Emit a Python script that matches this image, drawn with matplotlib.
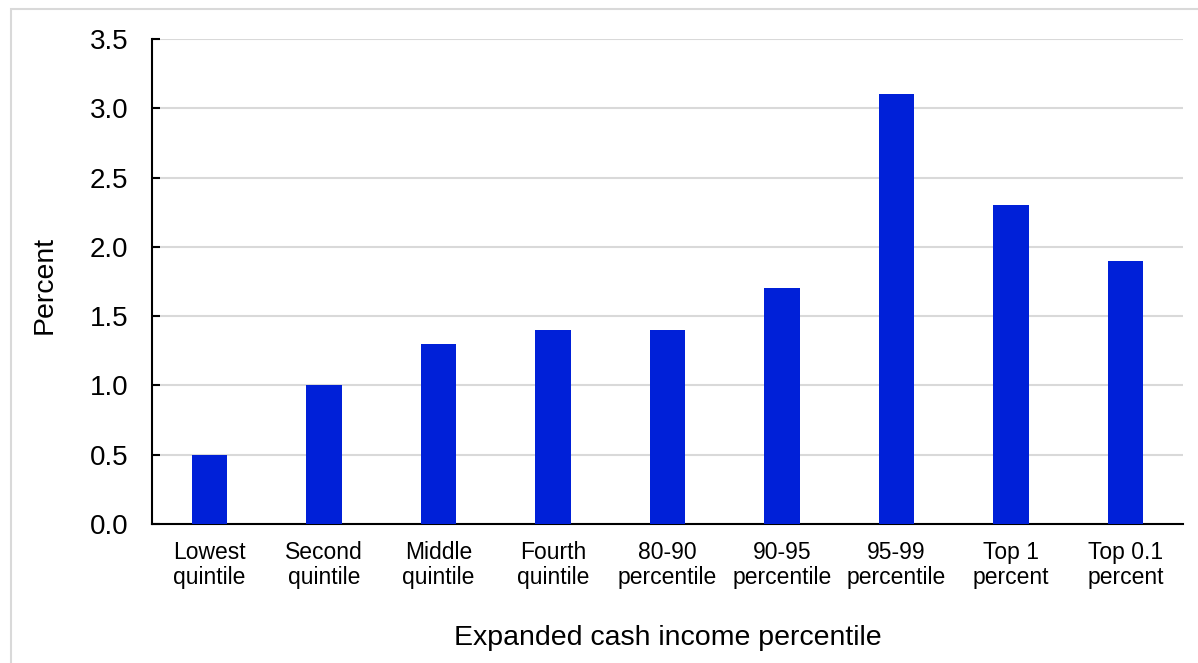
import matplotlib
matplotlib.use("Agg")
import matplotlib.pyplot as plt
from matplotlib.patches import Rectangle
import numpy as np

plt.rcParams['font.family'] = ['Liberation Sans', 'DejaVu Sans']

categories = ['Lowest\nquintile', 'Second\nquintile', 'Middle\nquintile', 'Fourth\nquintile',
              '80-90\npercentile', '90-95\npercentile', '95-99\npercentile', 'Top 1\npercent',
              'Top 0.1\npercent']
values = [0.5, 1.0, 1.3, 1.4, 1.4, 1.7, 3.1, 2.3, 1.9]
yticks = [0.0, 0.5, 1.0, 1.5, 2.0, 2.5, 3.0, 3.5]

fig = plt.figure(figsize=(11.98, 6.63), dpi=100)
ax = fig.add_axes([152/1198, 1-524/663, (1183-152)/1198, (524-39)/663])

# light gray frame around the chart area
fig.patches.append(Rectangle((10.5/1198, -0.1), 1.2, 1.1 - 9.5/663, transform=fig.transFigure,
                             fill=False, edgecolor='#d9d9d9', linewidth=1.5))

x = np.arange(len(categories))
ax.bar(x, values, width=0.31, color='#0020d8', zorder=3)

ax.set_xlim(-0.5, len(categories) - 0.5)
ax.set_ylim(0, 3.5)
ax.set_yticks(yticks)
ax.set_yticklabels([f'{v:.1f}' for v in yticks], fontsize=20)
ax.set_xticks(x)
ax.set_xticklabels(categories, fontsize=16.5, linespacing=1.15)
ax.tick_params(axis='y', direction='in', length=6, width=1.5, pad=17)
ax.tick_params(axis='x', length=0, pad=12)

ax.yaxis.grid(True, color='#d9d9d9', linewidth=1.5, zorder=0)
ax.set_axisbelow(True)
for s in ['top', 'right']:
    ax.spines[s].set_visible(False)
ax.spines['left'].set_linewidth(1.5)
ax.spines['bottom'].set_linewidth(1.5)

ax.set_ylabel('Percent', fontsize=20.5, va='center')
ax.yaxis.set_label_coords((45 - 152) / 1031, (524 - 285) / 485)
ax.set_xlabel('Expanded cash income percentile', fontsize=20.5, va='center')
ax.xaxis.set_label_coords((668 - 152) / 1031, (524 - 638) / 485)

fig.savefig('out.png', dpi=100)
